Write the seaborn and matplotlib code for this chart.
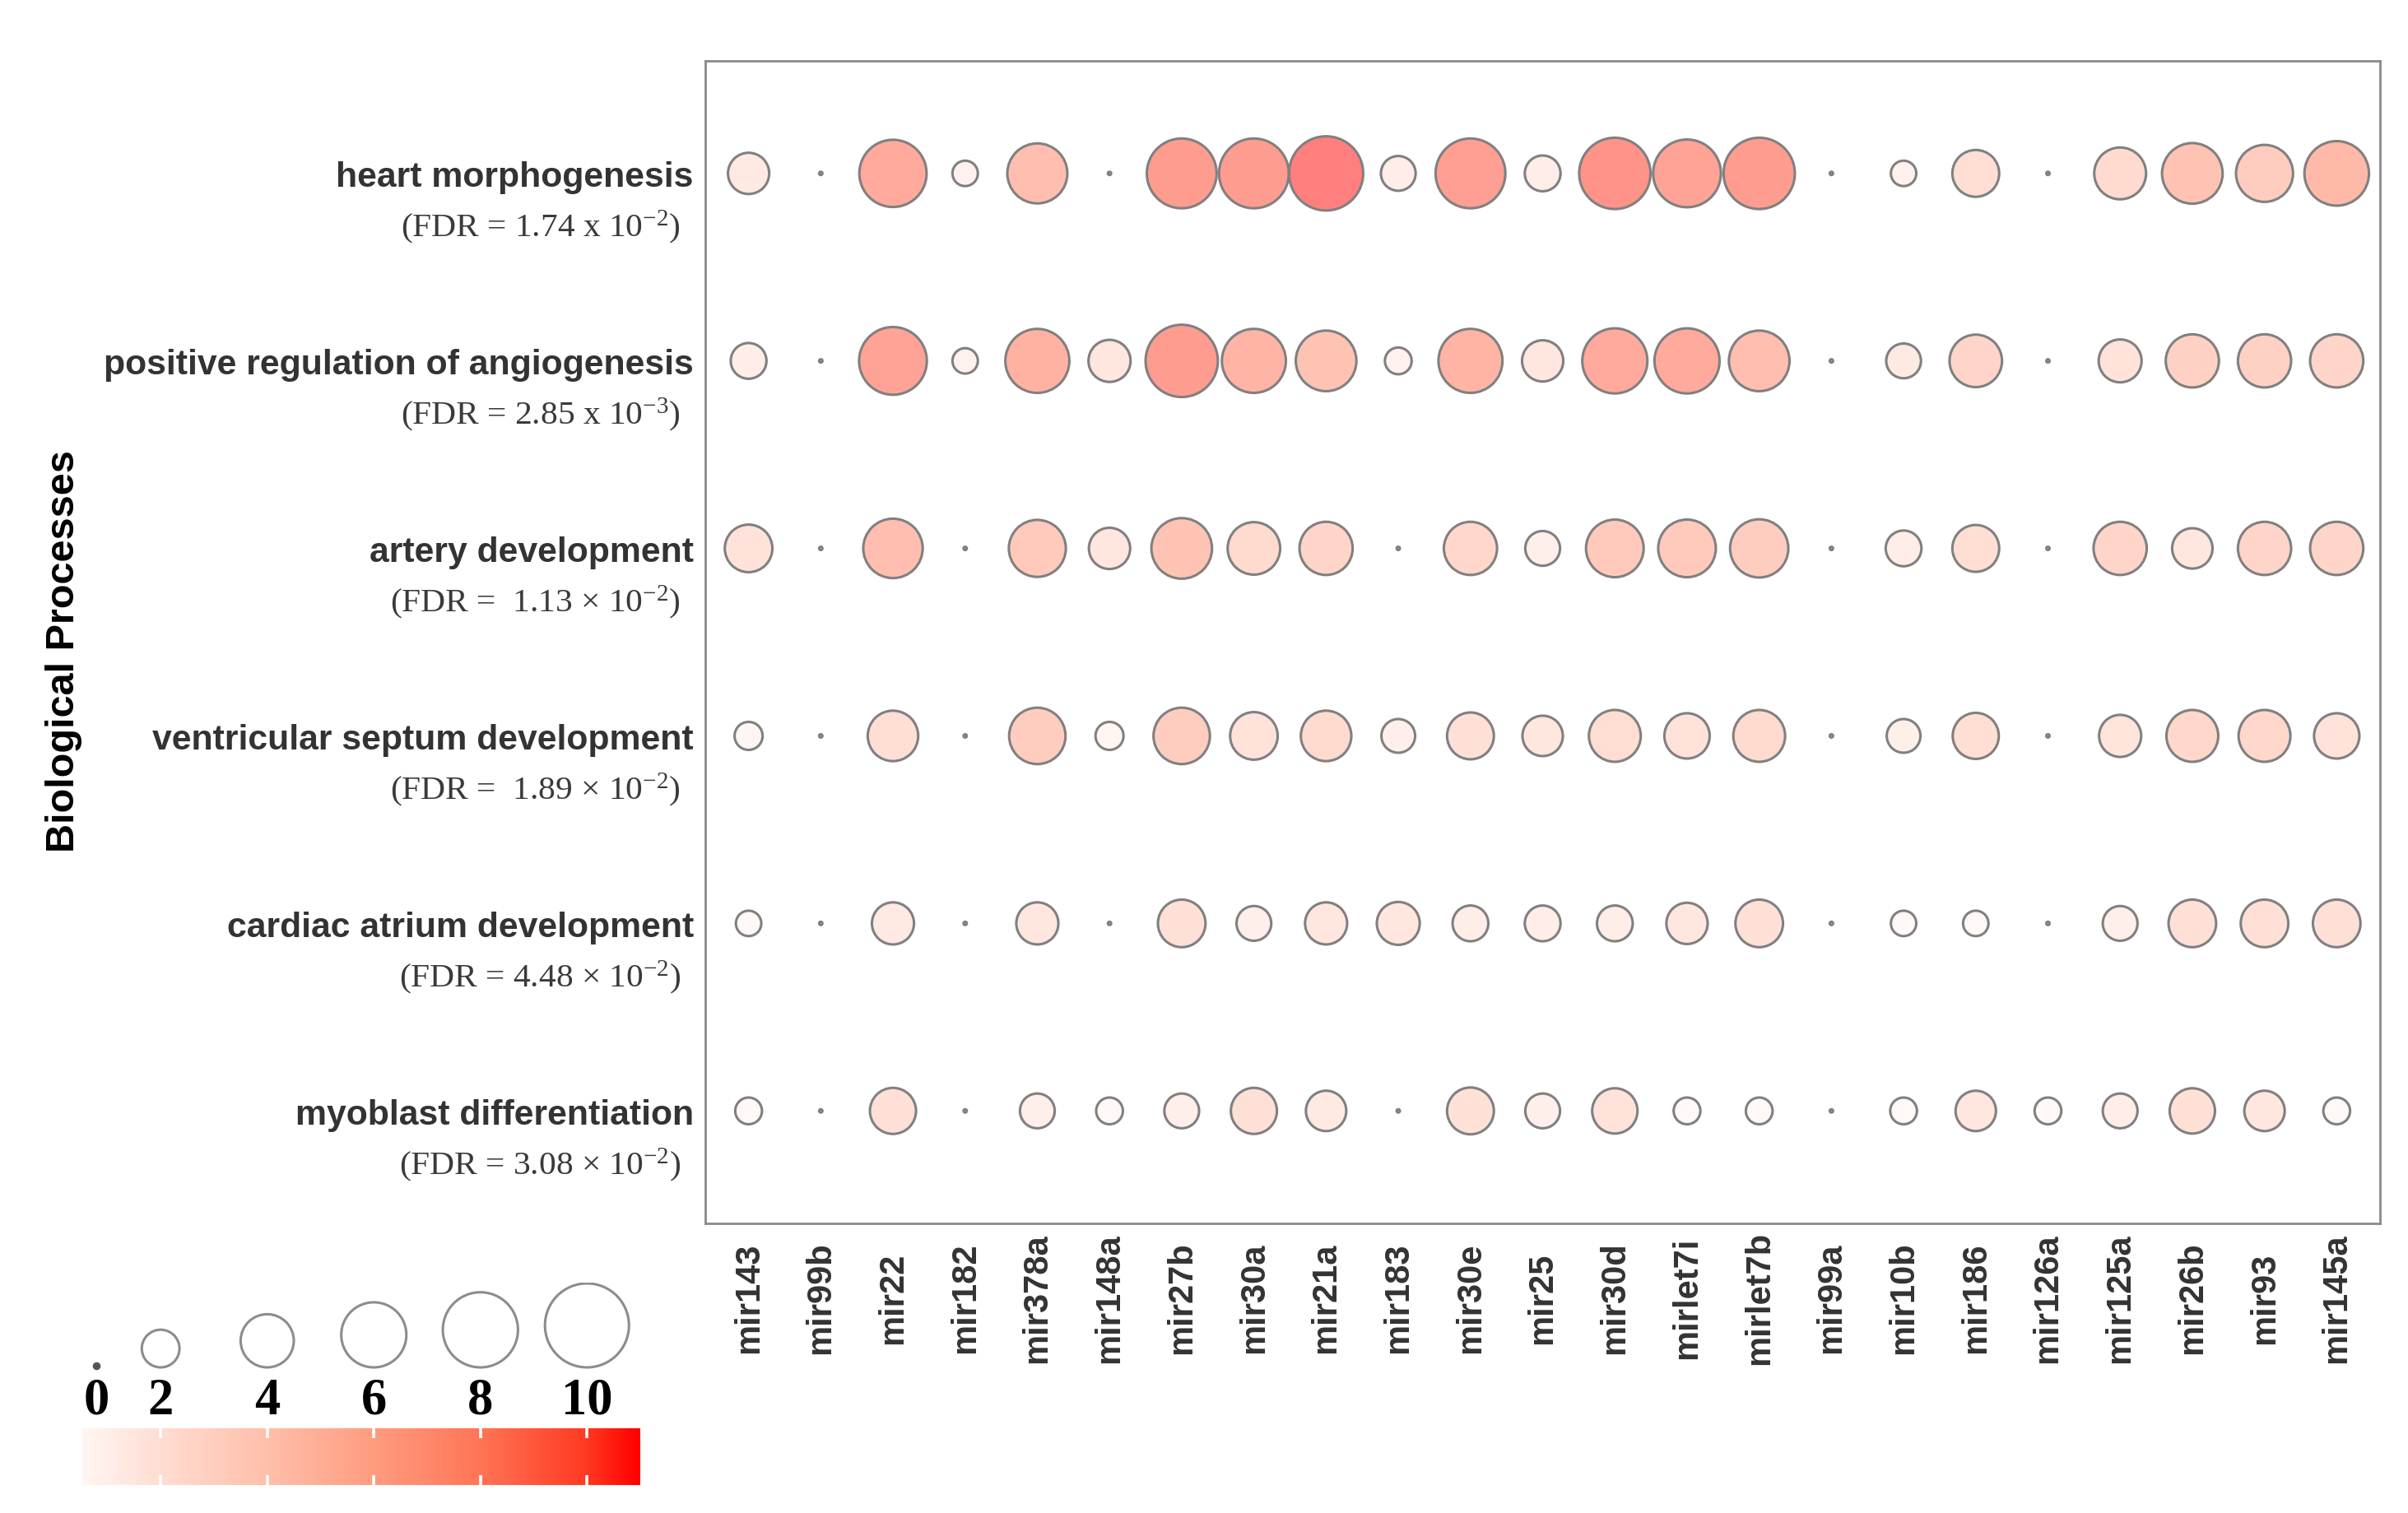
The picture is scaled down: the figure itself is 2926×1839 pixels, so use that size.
import numpy as np
import pandas as pd
import matplotlib
matplotlib.use('Agg')
import matplotlib.pyplot as plt
import seaborn as sns
from matplotlib.colors import LinearSegmentedColormap, Normalize
from matplotlib import transforms

processes = ['heart morphogenesis', 'positive regulation of angiogenesis', 'artery development',
             'ventricular septum development', 'cardiac atrium development', 'myoblast differentiation']
fdr_labels = [r'(FDR = 1.74 x 10$^{-2}$)', r'(FDR = 2.85 x 10$^{-3}$)',
              r'(FDR =  1.13 × 10$^{-2}$)', r'(FDR =  1.89 × 10$^{-2}$)',
              r'(FDR = 4.48 × 10$^{-2}$)', r'(FDR = 3.08 × 10$^{-2}$)']
mirnas = ['mir143', 'mir99b', 'mir22', 'mir182', 'mir378a', 'mir148a', 'mir27b', 'mir30a', 'mir21a',
          'mir183', 'mir30e', 'mir25', 'mir30d', 'mirlet7i', 'mirlet7b', 'mir99a', 'mir10b', 'mir186',
          'mir126a', 'mir125a', 'mir26b', 'mir93', 'mir145a']

# bubble size per process (same order as mirnas)
size_heart = [2.4, 0, 6.4, 0.9, 5.1, 0, 6.9, 6.9, 7.8, 1.7, 6.9, 1.8, 7.2, 6.5, 7.2, 0, 0.9, 3.1, 0, 3.8, 5.2, 4.6, 5.9]
size_angio = [1.8, 0, 6.5, 0.9, 5.8, 2.5, 7.4, 5.8, 5.2, 1.0, 5.8, 2.4, 6.0, 6.0, 5.2, 0, 1.7, 3.9, 0, 2.6, 4.0, 4.0, 4.0]
size_artery = [3.2, 0, 5.0, 0, 4.6, 2.4, 5.2, 3.9, 4.0, 0, 4.0, 1.7, 4.7, 4.7, 4.8, 0, 1.8, 3.1, 0, 4.0, 2.3, 4.0, 4.0]
size_ventr = [1.1, 0, 3.6, 0, 4.5, 1.1, 4.5, 3.2, 3.6, 1.6, 3.1, 2.3, 3.8, 2.9, 3.8, 0, 1.6, 3.0, 0, 2.5, 3.8, 3.8, 2.9]
size_atrium = [0.9, 0, 2.5, 0, 2.5, 0, 3.2, 1.7, 2.5, 2.6, 1.8, 1.8, 1.8, 2.4, 3.2, 0, 0.9, 0.9, 0, 1.7, 3.2, 3.2, 3.2]
size_myo = [1.0, 0, 3.0, 0, 1.7, 1.0, 1.7, 3.0, 2.3, 0, 3.1, 1.7, 2.9, 1.0, 1.0, 0, 1.0, 2.3, 1.0, 1.7, 2.9, 2.3, 1.0]

# fill colour value per process
col_heart = [2.5, 0, 9.0, 1.5, 7.5, 0, 10.0, 10.0, 11.0, 2.0, 9.8, 2.0, 10.3, 9.5, 10.0, 0, 1.5, 4.0, 0, 4.5, 7.0, 6.0, 8.0]
col_angio = [2.0, 0, 9.5, 1.5, 8.5, 3.0, 10.0, 8.3, 7.0, 1.5, 8.3, 3.0, 9.0, 9.0, 7.5, 0, 2.5, 5.0, 0, 3.5, 5.5, 5.5, 5.0]
col_artery = [3.5, 0, 7.5, 0, 6.3, 3.0, 7.0, 4.5, 5.0, 0, 4.8, 1.8, 6.3, 6.3, 6.0, 0, 2.0, 4.0, 0, 5.0, 3.0, 5.0, 5.0]
col_ventr = [1.0, 0, 4.0, 0, 6.0, 1.0, 6.0, 3.5, 4.5, 1.8, 3.7, 3.0, 4.2, 3.5, 4.5, 0, 1.8, 4.0, 0, 3.2, 4.8, 4.8, 3.5]
col_atrium = [0.8, 0, 2.5, 0, 2.8, 0, 3.8, 1.8, 2.8, 3.0, 2.0, 2.0, 2.0, 2.8, 3.8, 0, 0.8, 0.8, 0, 1.8, 3.8, 3.8, 3.8]
col_myo = [0.8, 0, 3.8, 0, 1.8, 0.8, 1.8, 3.7, 2.5, 0, 3.6, 1.8, 3.5, 0.8, 0.8, 0, 0.8, 3.0, 0.8, 2.0, 3.8, 3.0, 0.8]

legend_values = [0, 2, 4, 6, 8, 10]
colorbar_ticks = [2, 4, 6, 8, 10]

size_rows = [size_heart, size_angio, size_artery, size_ventr, size_atrium, size_myo]
col_rows = [col_heart, col_angio, col_artery, col_ventr, col_atrium, col_myo]

rows = []
for p, sz, cl in zip(processes, size_rows, col_rows):
    for m, s, c in zip(mirnas, sz, cl):
        rows.append({'process': p, 'mirna': m, 'size': s, 'colour': c})
df = pd.DataFrame(rows)

sns.set_theme(style='white')
plt.rcParams['font.family'] = ['Liberation Sans', 'DejaVu Sans']
plt.rcParams['mathtext.fontset'] = 'custom'
plt.rcParams['mathtext.rm'] = 'Liberation Serif'
plt.rcParams['mathtext.it'] = 'Liberation Serif'

stops = ['#FFFFFF', '#FFDDD2', '#FFBFAA', '#FF9C80', '#FF7556', '#FF3A22', '#FF0000']
pos = [0, 2 / 11, 4 / 11, 6 / 11, 8 / 11, 10 / 11, 1]
cmap_bar = LinearSegmentedColormap.from_list('wr', list(zip(pos, stops)))
fill_stops = [matplotlib.colors.to_rgb(c) + (0.5,) for c in stops]
cmap_fill = LinearSegmentedColormap.from_list('wr_a', list(zip(pos, fill_stops)))
cnorm = Normalize(0, 11)

W, H = 2926, 1840
fig = plt.figure(figsize=(W / 200, H / 200), dpi=200)
ax = fig.add_axes([857 / W, 1 - 1488 / H, (2892 - 857) / W, (1488 - 75) / H])

sizes = (2, 1350)
sns.scatterplot(data=df, x='mirna', y='process', hue='colour', palette=cmap_fill, hue_norm=cnorm,
                size='size', sizes=sizes, size_norm=(0, 10), edgecolor='#808080', linewidth=1.1,
                legend=False, ax=ax, zorder=3)
ax.set_xlim(-0.6, len(mirnas) - 0.4)
ax.set_ylim(len(processes) - 0.4, -0.6)
ax.set_xlabel('')
ax.set_ylabel('')
for sp in ax.spines.values():
    sp.set_color('#8a8a8a')
    sp.set_linewidth(1.0)
ax.tick_params(axis='both', which='major', length=3.6, width=0.9, color='#333333')
ax.tick_params(axis='y', pad=1.5, labelsize=15.4, labelcolor='#333333')
ax.tick_params(axis='x', pad=28.8, labelsize=15, labelcolor='#333333')
for lbl in ax.get_yticklabels():
    lbl.set_fontweight('bold')
for lbl in ax.get_xticklabels():
    lbl.set_fontweight('bold')
    lbl.set_rotation(90)
    lbl.set_va('center')
    lbl.set_ha('center')

trans = transforms.blended_transform_factory(ax.transAxes, ax.transData)
for i, txt in enumerate(fdr_labels):
    ax.annotate(txt, xy=(0, i), xycoords=trans, xytext=(-10.8, -23.4), textcoords='offset points',
                ha='right', va='center', fontsize=14.9, color='#3a3a3a', family='Liberation Serif')

fig.text(78 / W, 1 - 792 / H, 'Biological Processes', rotation=90, ha='center', va='center',
         fontsize=17.5, fontweight='bold', color='black')

# legend bubbles
lx0, lx1 = 100 / W, 778 / W
key_x = [0.8, 2, 4, 6, 8, 10]
lax = fig.add_axes([lx0, 1 - 1730 / H, lx1 - lx0, (1730 - 1560) / H])
lax.set_xlim(0.53, 11.0)
lax.set_ylim(1730, 1560)
lax.axis('off')
baseline = 1663
areas = [sizes[0] + (sizes[1] - sizes[0]) * v / 10 for v in legend_values]
key_y = [baseline - np.sqrt(a) / 2 * 200 / 72 for a in areas]
leg_df = pd.DataFrame({'x': key_x, 'y': key_y, 'v': legend_values})
sns.scatterplot(data=leg_df, x='x', y='y', size='v', sizes=sizes, size_norm=(0, 10),
                color='white', edgecolor='#8c8c8c', linewidth=1.1, legend=False, ax=lax)
lax.scatter([key_x[0]], [key_y[0]], s=6, color='#555555', zorder=4)
for x, v in zip(key_x, legend_values):
    lax.text(x, 1704, str(v), ha='center', va='center', fontsize=22.5, fontweight='bold',
             family='Liberation Serif', color='black')
lax.set_xlabel('')
lax.set_ylabel('')

# colour bar
cax = fig.add_axes([lx0, 1 - 1806 / H, lx1 - lx0, 69 / H])
grad = np.linspace(0.53, 11.0, 400).reshape(1, -1)
cax.imshow(grad, cmap=cmap_bar, norm=cnorm, aspect='auto', extent=[0.53, 11.0, 0, 1])
cax.vlines(colorbar_ticks, 0, 0.17, colors='white', linewidth=1.3)
cax.vlines(colorbar_ticks, 0.83, 1, colors='white', linewidth=1.3)
cax.set_xlim(0.53, 11.0)
cax.set_ylim(0, 1)
cax.axis('off')

fig.savefig('out.png', dpi=200, facecolor='white')
